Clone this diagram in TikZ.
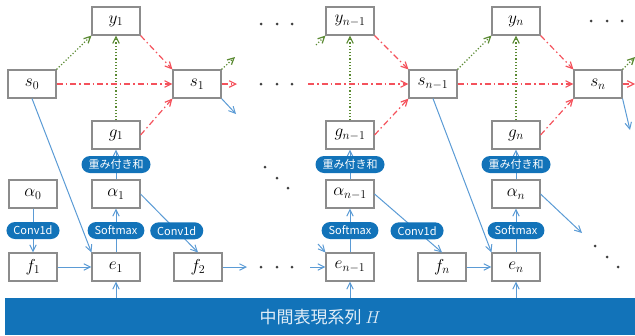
\documentclass[tikz,border=0pt]{standalone}
\usepackage{fontspec}
\usepackage{tikz}
\usetikzlibrary{arrows.meta, positioning, calc}
\newfontfamily\jpfont{Noto Sans CJK JP}
\definecolor{barblue}{HTML}{1273B9}
\definecolor{lineblue}{HTML}{5B9BD5}
\definecolor{dashred}{HTML}{F4525C}
\definecolor{dotgreen}{HTML}{5A8A32}
\definecolor{boxgray}{HTML}{8C8C8C}
\definecolor{dotgray}{HTML}{404040}

\begin{document}
\begin{tikzpicture}[
    x=1pt, y=-1pt,
    box/.style={draw=boxgray, line width=1.1pt, fill=white, minimum width=48pt, minimum height=28pt, inner sep=0pt, font=\fontsize{18}{20}\selectfont},
    tag/.style={fill=barblue, text=white, rounded corners=8.5pt, minimum height=17pt, inner xsep=7pt, inner ysep=0pt, font=\jpfont\fontsize{11}{12}\selectfont},
    arrow/.style={-{Straight Barb[length=6.5pt, width=6.5pt]}, line width=1pt, lineblue},
    redarrow/.style={-{Straight Barb[length=6.5pt, width=6.5pt]}, line width=1.2pt, dashred, dash pattern=on 6pt off 3pt on 1.5pt off 3pt},
    greenarrow/.style={-{Straight Barb[length=6.5pt, width=6.5pt]}, line width=1.2pt, dotgreen, dotted},
]
\useasboundingbox (0,0) rectangle (635,335);
% Step 1
\node[box] (s0) at (32,84) {$s_0$};
\node[box] (y1) at (116,21) {$y_1$};
\node[box] (g1) at (116,135) {$g_1$};
\node[box] (s1) at (197,84) {$s_1$};
\node[box] (a0) at (33,194) {$\alpha_0$};
\node[box] (a1) at (116,194) {$\alpha_1$};
\node[box] (f1) at (33,267) {$f_1$};
\node[box] (e1) at (116,267) {$e_1$};
\node[box] (f2) at (198,267) {$f_2$};
% Step n-1
\node[box] (ym) at (350,21) {$y_{n-1}$};
\node[box] (gm) at (350,135) {$g_{n-1}$};
\node[box] (sm) at (433,84) {$s_{n-1}$};
\node[box] (am) at (350,194) {$\alpha_{n-1}$};
\node[box] (em) at (350,267) {$e_{n-1}$};
\node[box] (fn) at (442,267) {$f_n$};
% Step n
\node[box] (yn) at (516,21) {$y_n$};
\node[box] (gn) at (516,135) {$g_n$};
\node[box] (sn) at (598,84) {$s_n$};
\node[box] (an) at (516,194) {$\alpha_n$};
\node[box] (en) at (516,267) {$e_n$};
% Encoder output
\node[fill=barblue, minimum width=630pt, minimum height=37pt, inner sep=0pt, anchor=north west,
      text=white!88!barblue, font=\jpfont\fontsize{17}{19}\selectfont] (hbar) at (5,298) {中間表現系列 $H$};
% Loose ends
\coordinate (s1g) at (235,57);
\coordinate (s1r) at (237,84);
\coordinate (s1b) at (236,114);
\coordinate (f2r) at (247,267);
\coordinate (ing) at (316,45);
\coordinate (inr) at (308,84);
\coordinate (ind) at (318,244);
\coordinate (inb) at (310,267);
\coordinate (sng) at (635,57);
\coordinate (snr) at (635,84);
\coordinate (snb) at (630,130);
\coordinate (anb) at (582,233);
% Decoder links
\draw[greenarrow] (s0.north east) -- (y1.south west);
\draw[greenarrow] (g1.north) -- (y1.south);
\draw[redarrow] (y1.south east) -- (s1.north west);
\draw[redarrow] (s0.east) -- (s1.west);
\draw[redarrow] (g1.east) -- (s1.south west);
\draw[greenarrow] (s1.north east) -- (s1g);
\draw[redarrow] (s1.east) -- (s1r);
\draw[arrow] (s1.south east) -- (s1b);
\draw[greenarrow] (ing) -- (ym.south west);
\draw[greenarrow] (gm.north) -- (ym.south);
\draw[redarrow] (ym.south east) -- (sm.north west);
\draw[redarrow] (inr) -- (sm.west);
\draw[redarrow] (gm.east) -- (sm.south west);
\draw[greenarrow] (sm.north east) -- (yn.south west);
\draw[greenarrow] (gn.north) -- (yn.south);
\draw[redarrow] (yn.south east) -- (sn.north west);
\draw[redarrow] (sm.east) -- (sn.west);
\draw[redarrow] (gn.east) -- (sn.south west);
\draw[greenarrow] (sn.north east) -- (sng);
\draw[redarrow] (sn.east) -- (snr);
\draw[arrow] (sn.south east) -- (snb);
% Attention links
\draw[arrow] (s0.south) -- (e1.north west);
\draw[arrow] (sm.south) -- (en.north west);
\draw[arrow] (ind) -- (em.north west);
\draw[arrow] (a0.south) -- node[tag] (cv0) {Conv1d} (f1.north);
\draw[arrow] (e1.north) -- node[tag] (sf1) {Softmax} (a1.south);
\draw[arrow] (a1.north) -- node[tag] (ws1) {重み付き和} (g1.south);
\draw[arrow] (a1.east) -- node[tag, pos=0.63] (cv1) {Conv1d} (f2.north);
\draw[arrow] (em.north) -- node[tag] (sfm) {Softmax} (am.south);
\draw[arrow] (am.north) -- node[tag] (wsm) {重み付き和} (gm.south);
\draw[arrow] (am.east) -- node[tag, pos=0.63] (cvm) {Conv1d} (fn.north);
\draw[arrow] (en.north) -- node[tag] (sfn) {Softmax} (an.south);
\draw[arrow] (an.north) -- node[tag] (wsn) {重み付き和} (gn.south);
\draw[arrow] (an.east) -- (anb);
\draw[arrow] (f1.east) -- (e1.west);
\draw[arrow] (f2.east) -- (f2r);
\draw[arrow] (inb) -- (em.west);
\draw[arrow] (fn.east) -- (en.west);
\draw[arrow] (e1 |- hbar.north) -- (e1.south);
\draw[arrow] (em |- hbar.north) -- (em.south);
\draw[arrow] (en |- hbar.north) -- (en.south);
% Ellipses
\foreach \x in {261,277,292} {
  \fill[dotgray] (\x,24) circle (1.5pt);
  \fill[dotgray] (\x,84) circle (1.5pt);
  \fill[dotgray] (\x,267) circle (1.5pt);
}
\foreach \x in {591,607,622} \fill[dotgray] (\x,21) circle (1.5pt);
\foreach \x/\y in {265/167, 277/178, 288/188, 595/246, 607/257, 618/267}
  \fill[dotgray] (\x,\y) circle (1.5pt);
\end{tikzpicture}
\end{document}
